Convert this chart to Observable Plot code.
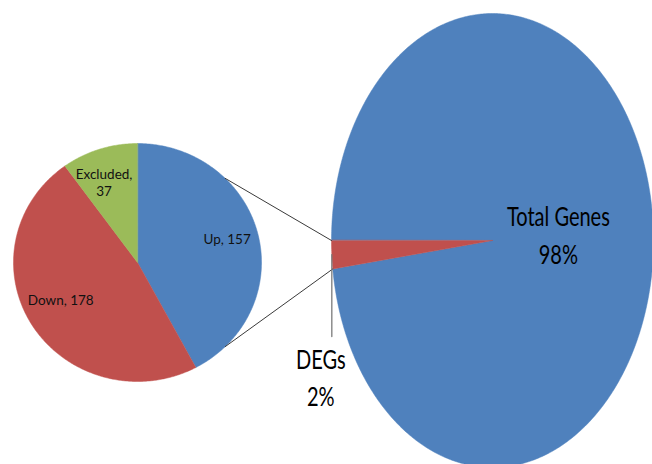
<!DOCTYPE html>
<html>
<head>
<meta charset="utf-8">
<script src="https://cdn.jsdelivr.net/npm/d3@7"></script>
<script src="https://cdn.jsdelivr.net/npm/@observablehq/plot@0.6"></script>
<style>
  html, body { margin: 0; padding: 0; background: #fff; }
  #chart { width: 652px; height: 464px; overflow: hidden; }
</style>
</head>
<body>
<div id="chart"></div>
<script>
// Breakdown of the differentially expressed genes (small pie)
const degCategories = ["Up", "Down", "Excluded"];
const degCounts = [157, 178, 37];

// Share of DEGs among all genes (large pie)
const geneCategories = ["Total Genes", "DEGs"];
const genePercents = [98, 2];

const W = 652, H = 464;
const sliceColors = {
  "Up": "#4F81BD", "Down": "#C0504D", "Excluded": "#9BBB59",
  "Total Genes": "#4F81BD", "DEGs": "#C0504D"
};

// Pie layout in the plot's coordinate frame
const smallPie = {cx: 137, cy: 262, rx: 124, ry: 119};
const bigPie = {cx: 492, cy: 240, rx: 161, ry: 227};

// angle measured clockwise from 12 o'clock
const at = (p, a, r = 1) => ({x: p.cx + p.rx * r * Math.sin(a), y: p.cy - p.ry * r * Math.cos(a)});

function arcsOf(values, start) {
  return d3.pie().sort(null).startAngle(start).endAngle(start + 2 * Math.PI)(values);
}

function slicePolygons(pie, labels, arcs) {
  const pts = [];
  arcs.forEach((a, i) => {
    const key = labels[i];
    const fill = sliceColors[key];
    pts.push({key, fill, ...at(pie, 0, 0)});
    const n = Math.max(2, Math.ceil((a.endAngle - a.startAngle) / 0.01));
    for (let k = 0; k <= n; k++) {
      const t = a.startAngle + (a.endAngle - a.startAngle) * k / n;
      pts.push({key, fill, ...at(pie, t)});
    }
  });
  return pts;
}

const smallArcs = arcsOf(degCounts, 0);
const bigArcs = arcsOf(genePercents, -Math.PI / 2);

const smallPts = slicePolygons(smallPie, degCategories, smallArcs);
const bigPts = slicePolygons(bigPie, geneCategories, bigArcs);

// Connector lines: from the small pie's right side to the DEGs slice edges
const degArc = bigArcs[1];
const connectors = [
  {id: "top", a: at(smallPie, Math.PI / 4), b: at(bigPie, degArc.endAngle)},
  {id: "bottom", a: at(smallPie, 3 * Math.PI / 4), b: at(bigPie, degArc.startAngle)}
].flatMap(c => [{id: c.id, ...c.a}, {id: c.id, ...c.b}]);

// Leader line from the DEGs slice down to its label
const degMid = at(bigPie, (degArc.startAngle + degArc.endAngle) / 2);
const leader = [{x: degMid.x, y: degMid.y}, {x: degMid.x, y: 336}];

// Data labels of the small pie, placed along each slice's mid-angle
const labelNudge = [[3, -3], [-1, -8], [-6, 1]];
const smallLabels = smallArcs.map((a, i) => {
  const m = at(smallPie, (a.startAngle + a.endAngle) / 2, 0.72);
  const text = degCategories[i] === "Excluded"
    ? `${degCategories[i]},\n${degCounts[i]}`
    : `${degCategories[i]}, ${degCounts[i]}`;
  return {text, x: m.x + labelNudge[i][0], y: m.y + labelNudge[i][1]};
});

const totalMid = at(bigPie, (bigArcs[0].startAngle + bigArcs[0].endAngle) / 2, 0.41);
const totalLabel = [{text: `${geneCategories[0]}\n${genePercents[0]}%`, x: totalMid.x, y: totalMid.y - 2}];
const degLabel = [{text: `${geneCategories[1]}\n${genePercents[1]}%`, x: degMid.x - 11, y: 405}];

const bigFont = {fontFamily: "Lato, 'Open Sans', sans-serif", fontSize: 26, fill: "#000"};

const chart = Plot.plot({
  width: W,
  height: H,
  margin: 0,
  x: {domain: [0, W], range: [0, W], axis: null},
  y: {domain: [0, H], range: [0, H], axis: null},
  color: {type: "identity"},
  marks: [
    Plot.line(bigPts, {x: "x", y: "y", z: "key", fill: "fill", stroke: "fill", strokeWidth: 0.5, curve: "linear-closed"}),
    Plot.line(smallPts, {x: "x", y: "y", z: "key", fill: "fill", stroke: "fill", strokeWidth: 0.5, curve: "linear-closed"}),
    Plot.line(connectors, {x: "x", y: "y", z: "id", stroke: "#3a3a3a", strokeWidth: 1}),
    Plot.line(leader, {x: "x", y: "y", stroke: "#7a7a7a", strokeWidth: 1.3}),
    Plot.text(smallLabels, {
      x: "x", y: "y", text: "text", fill: "#111",
      fontFamily: "Lato, 'Liberation Sans', sans-serif", fontSize: 13.5, lineHeight: 1.26
    }),
    Plot.text(totalLabel, {x: "x", y: "y", text: "text", lineAnchor: "middle", lineHeight: 1.46, ...bigFont}),
    Plot.text(degLabel, {x: "x", y: "y", text: "text", lineAnchor: "bottom", lineHeight: 1.42, ...bigFont})
  ]
});

// The large labels use a condensed letterform: squeeze them horizontally around their anchor
const textGroups = chart.querySelectorAll('g[aria-label="text"]');
[...textGroups].slice(1).forEach(g => {
  g.querySelectorAll("text").forEach(t => {
    t.setAttribute("transform", `${t.getAttribute("transform") || ""} scale(0.77,1)`);
  });
});

document.getElementById("chart").appendChild(chart);
</script>
</body>
</html>
